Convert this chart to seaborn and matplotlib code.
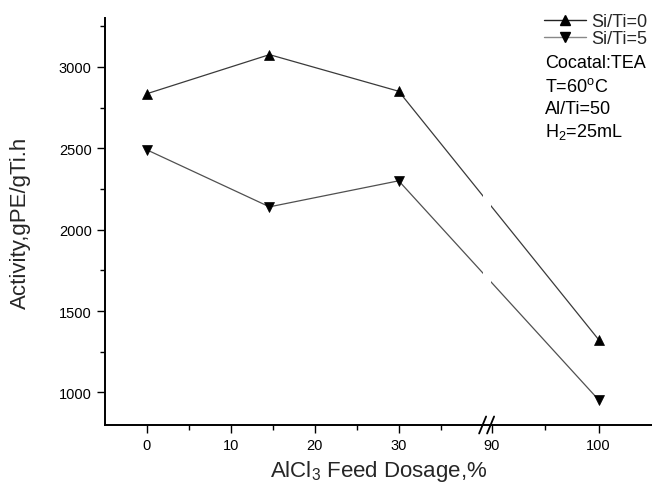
import numpy as np
import pandas as pd
import matplotlib
matplotlib.use("Agg")
import matplotlib.pyplot as plt
from matplotlib.ticker import FixedLocator
from matplotlib.lines import Line2D
import seaborn as sns

# ---------------------------------------------------------------------------
# Data
# ---------------------------------------------------------------------------
dosage = [0, 14.6, 30, 100]
act_si0 = [2835, 3075, 2850, 1325]
act_si5 = [2490, 2140, 2300, 955]
series_names = ["Si/Ti=0", "Si/Ti=5"]
conditions = ["Cocatal:TEA", "T=60$^{\\mathrm{o}}$C", "Al/Ti=50", "H$_2$=25mL"]

x_major = [0, 10, 20, 30, 90, 100]
x_minor = [5, 15, 25, 35, 95]
y_major = [1000, 1500, 2000, 2500, 3000]
y_minor = [1250, 1750, 2250, 2750, 3250]

# broken x axis: [-5, 40] then [89.9, 105]
BRK_LO, BRK_HI = 40.0, 89.9
GAP = 0.95
RATIO = 10.7 / 8.4


def fwd(x):
    x = np.asarray(x, dtype=float)
    mid = BRK_LO + (x - BRK_LO) / (BRK_HI - BRK_LO) * GAP
    hi = BRK_LO + GAP + (x - BRK_HI) * RATIO
    return np.where(x <= BRK_LO, x, np.where(x >= BRK_HI, hi, mid))


def inv(u):
    u = np.asarray(u, dtype=float)
    mid = BRK_LO + (u - BRK_LO) / GAP * (BRK_HI - BRK_LO)
    hi = BRK_HI + (u - BRK_LO - GAP) / RATIO
    return np.where(u <= BRK_LO, u, np.where(u >= BRK_LO + GAP, hi, mid))


df = pd.DataFrame({
    "dosage": dosage * 2,
    "activity": act_si0 + act_si5,
    "series": [series_names[0]] * len(dosage) + [series_names[1]] * len(dosage),
})

sns.set_theme(style="ticks")
plt.rcParams["font.family"] = ["Liberation Sans", "DejaVu Sans"]
plt.rcParams["mathtext.fontset"] = "custom"
plt.rcParams["mathtext.rm"] = "Liberation Sans"
plt.rcParams["mathtext.it"] = "Liberation Sans:italic"

fig = plt.figure(figsize=(6.52, 4.89), dpi=100)
ax = fig.add_axes([105 / 652, 1 - 426 / 489, 547 / 652, 407 / 489])
ax.set_xscale("function", functions=(fwd, inv))

line_colors = ["#3a3a3a", "#505050"]
markers = ["^", "v"]
for name, col, mk in zip(series_names, line_colors, markers):
    sub = df[df["series"] == name]
    sns.lineplot(
        data=sub, x="dosage", y="activity", ax=ax,
        color=col, linewidth=0.9, marker=mk, markersize=7.5,
        markerfacecolor="black", markeredgecolor="black", markeredgewidth=0.5,
        zorder=2,
    )

# gap in the lines at the break
ax.axvspan(BRK_LO, BRK_HI, color="white", zorder=2.2, lw=0)

ax.set_xlim(-5, 105)
ax.set_ylim(800, 3300)
ax.xaxis.set_major_locator(FixedLocator(x_major))
ax.xaxis.set_minor_locator(FixedLocator(x_minor))
ax.yaxis.set_major_locator(FixedLocator(y_major))
ax.yaxis.set_minor_locator(FixedLocator(y_minor))
ax.set_xticklabels([str(v) for v in x_major])

for side in ["top", "right"]:
    ax.spines[side].set_visible(False)
for side in ["left", "bottom"]:
    ax.spines[side].set_linewidth(1.4)
    ax.spines[side].set_color("black")
ax.tick_params(which="major", direction="out", length=5.5, width=1.0,
               colors="black", labelsize=10.5, pad=4)
ax.tick_params(which="minor", direction="out", length=3.5, width=1.0,
               colors="black")
ax.grid(False)

ax.set_xlabel("AlCl$_3$ Feed Dosage,%", fontsize=16, labelpad=4)
ax.set_ylabel("Activity,gPE/gTi.h", fontsize=16, labelpad=20)

# break marks on the bottom spine
u0, u1 = fwd(-5), fwd(105)
for xb in [BRK_LO, BRK_HI]:
    xa = (fwd(xb) - u0) / (u1 - u0)
    dx, dy = 3.5 / 547, 8.5 / 407
    ax.plot([xa - dx, xa + dx], [-dy, dy], transform=ax.transAxes,
            color="black", lw=1.3, clip_on=False, zorder=5)

# legend and conditions
handles = [
    Line2D([], [], color="#222222", lw=1.0, marker="^", markersize=7,
           markerfacecolor="black", markeredgecolor="black"),
    Line2D([], [], color="#888888", lw=1.0, marker="v", markersize=7,
           markerfacecolor="black", markeredgecolor="black"),
]
fig.legend(handles, series_names, loc="upper left",
           bbox_to_anchor=(544 / 652, 1 - 14 / 489), frameon=False,
           fontsize=13, handlelength=2.3, handletextpad=0.3,
           labelspacing=0.0, borderpad=0, borderaxespad=0)
for i, txt in enumerate(conditions):
    fig.text(545 / 652, 1 - (64 + 22.7 * i) / 489, txt, fontsize=13,
             ha="left", va="center", color="black")

fig.savefig("out.png", dpi=100)
